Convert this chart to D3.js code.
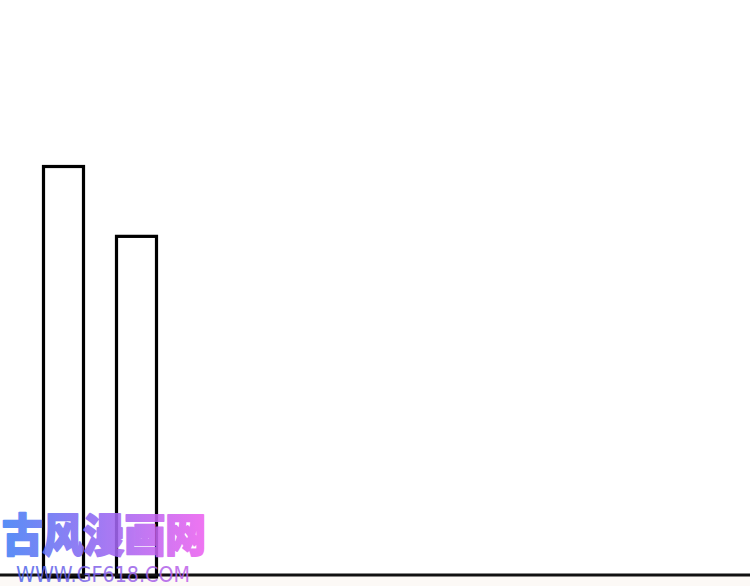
<!DOCTYPE html>
<html>
<head>
<meta charset="utf-8">
<script src="https://cdn.jsdelivr.net/npm/d3@7"></script>
<style>
html,body{margin:0;padding:0;background:#fff;}
svg{display:block;}
</style>
</head>
<body>
<svg id="chart" width="750" height="586"></svg>
<script>
const categories = ["A", "B"];
const values = [100, 82.9];
const watermarkTitle = "古风漫画网";
const watermarkUrl = "WWW.GF618.COM";

const W = 750, H = 586;
const svg = d3.select("#chart");

svg.append("rect").attr("x", 0).attr("y", 575).attr("width", W).attr("height", H - 575).attr("fill", "#fcf9f6");

const x = d3.scaleBand().domain(categories).range([43.5, 156.5]).paddingInner(33 / 73).paddingOuter(0).align(0);
const y = d3.scaleLinear().domain([0, 100]).range([575, 166.5]);

svg.append("g").selectAll("rect").data(values).join("rect")
  .attr("x", (d, i) => x(categories[i]))
  .attr("y", d => y(d))
  .attr("width", x.bandwidth())
  .attr("height", d => y(0) - y(d) + 2)
  .attr("fill", "#fff")
  .attr("stroke", "#000")
  .attr("stroke-width", 3.2);

svg.append("line").attr("x1", 0).attr("x2", W).attr("y1", y(0)).attr("y2", y(0))
  .attr("stroke", "#111").attr("stroke-width", 3);

const defs = svg.append("defs");
const g1 = defs.append("linearGradient").attr("id", "wm1").attr("gradientUnits", "userSpaceOnUse")
  .attr("x1", 0).attr("x2", 208).attr("y1", 0).attr("y2", 0);
g1.append("stop").attr("offset", "0%").attr("stop-color", "#3f80f5");
g1.append("stop").attr("offset", "45%").attr("stop-color", "#8f68f2");
g1.append("stop").attr("offset", "100%").attr("stop-color", "#f062f0");
const g2 = defs.append("linearGradient").attr("id", "wm2").attr("gradientUnits", "userSpaceOnUse")
  .attr("x1", 16).attr("x2", 190).attr("y1", 0).attr("y2", 0);
g2.append("stop").attr("offset", "0%").attr("stop-color", "#4a62e8");
g2.append("stop").attr("offset", "100%").attr("stop-color", "#c060e8");

svg.append("text").text(watermarkTitle)
  .attr("x", 2).attr("y", 552)
  .attr("font-family", "'Noto Sans CJK SC'")
  .attr("font-weight", 900)
  .attr("font-size", 45)
  .attr("textLength", 204).attr("lengthAdjust", "spacingAndGlyphs")
  .attr("fill", "url(#wm1)")
  .attr("stroke", "url(#wm1)").attr("stroke-width", 2).attr("stroke-linejoin", "round")
  .attr("opacity", 0.88);

svg.append("text").text(watermarkUrl)
  .attr("x", 16).attr("y", 582)
  .attr("font-family", "'DejaVu Sans', sans-serif")
  .attr("font-size", 21)
  .attr("textLength", 174).attr("lengthAdjust", "spacingAndGlyphs")
  .attr("fill", "url(#wm2)").attr("fill-opacity", 0.85);
</script>
</body>
</html>
